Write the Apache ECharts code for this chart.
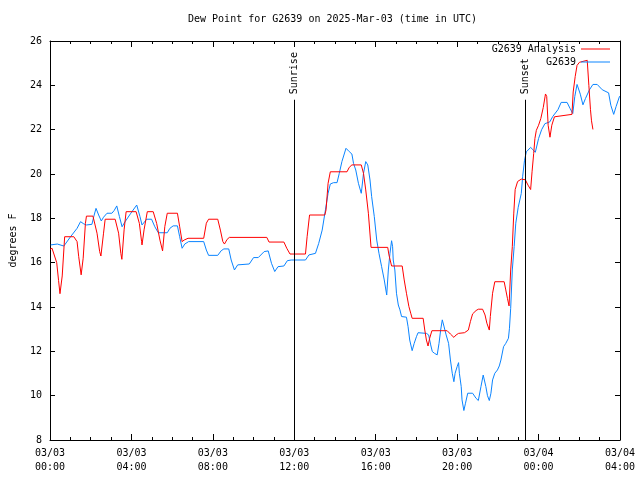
<!DOCTYPE html>
<html>
<head>
<meta charset="utf-8">
<script src="https://cdn.jsdelivr.net/npm/echarts@6/dist/echarts.min.js"></script>
<style>
html,body{margin:0;padding:0;background:#fff;}
#chart{width:640px;height:480px;}
</style>
</head>
<body>
<div id="chart"></div>
<script>
// Hours since 2025-03-03 00:00 UTC, value in degrees F
var analysisSeries = [
[0.0,16.6],[0.1,16.65],[0.33,16.0],[0.42,15.2],[0.49,14.6],[0.6,15.4],[0.72,17.17],[1.17,17.17],[1.33,16.95],[1.41,16.27],[1.53,15.45],[1.63,16.2],[1.74,17.77],[1.79,18.1],[2.11,18.1],[2.31,17.33],[2.44,16.5],[2.5,16.3],[2.63,17.33],[2.71,17.96],[3.2,17.96],[3.37,17.33],[3.48,16.42],[3.53,16.15],[3.64,17.48],[3.74,18.3],[4.23,18.3],[4.39,17.77],[4.5,16.95],[4.52,16.8],[4.62,17.48],[4.78,18.3],[5.07,18.3],[5.24,17.77],[5.4,17.02],[5.53,16.53],[5.64,17.63],[5.76,18.23],
[6.26,18.23],[6.37,17.62],[6.49,16.95],[6.59,17.02],[6.78,17.1],[7.55,17.1],[7.68,17.78],[7.79,17.96],[8.24,17.96],[8.37,17.47],[8.49,16.95],[8.57,16.84],[8.7,17.05],[8.81,17.14],[10.65,17.14],[10.76,16.93],[11.49,16.93],[11.63,16.65],[11.79,16.39],
[12.55,16.39],[12.63,17.17],[12.75,18.15],[13.5,18.15],[13.56,18.38],[13.66,19.58],[13.77,20.1],[14.59,20.1],[14.7,20.3],[14.83,20.41],[15.29,20.41],[15.4,20.03],[15.51,19.28],[15.64,18.23],[15.77,16.69],[16.59,16.69],[16.65,16.35],[16.7,16.27],[16.78,15.85],[17.3,15.85],[17.4,15.22],[17.51,14.62],[17.63,14.02],[17.72,13.72],[17.79,13.49],[18.33,13.49],
[18.41,12.96],[18.49,12.51],[18.57,12.24],[18.65,12.59],[18.76,12.93],[19.51,12.93],[19.67,12.78],[19.84,12.63],[19.95,12.74],[20.07,12.81],[20.36,12.84],[20.55,12.96],[20.65,13.34],[20.76,13.69],[20.93,13.84],[21.04,13.9],[21.25,13.9],[21.37,13.64],[21.46,13.27],[21.58,12.96],[21.63,13.57],[21.74,14.62],[21.85,15.14],[22.31,15.14],[22.39,14.77],[22.47,14.39],[22.55,14.05],[22.63,15.67],[22.71,16.72],[22.78,18.2],[22.85,19.3],[22.97,19.66],[23.15,19.77],[23.35,19.74],[23.48,19.5],[23.61,19.3],[23.68,20.1],[23.76,20.92],[23.82,21.6],[23.89,21.97],[24.0,22.2],[24.11,22.5],[24.23,23.0],[24.34,23.61],[24.4,23.5],[24.47,22.2],[24.56,21.66],[24.65,22.2],[24.78,22.58],[25.64,22.69],[25.7,23.7],[25.8,24.4],[25.89,24.9],[26.01,25.04],[26.39,25.13],[26.47,24.0],[26.55,22.9],[26.6,22.4],[26.67,22.01]
];
var observedSeries = [
[0.03,16.8],[0.36,16.84],[0.68,16.75],[1.01,17.17],[1.33,17.55],[1.5,17.85],[1.66,17.75],[1.79,17.7],[2.06,17.73],[2.15,18.08],[2.26,18.45],[2.39,18.15],[2.52,17.88],[2.63,18.05],[2.8,18.23],[3.04,18.23],[3.15,18.35],[3.28,18.56],[3.41,18.08],[3.54,17.62],[3.69,17.85],[3.97,18.23],[4.26,18.6],[4.42,18.08],[4.52,17.7],[4.75,17.96],[4.99,17.96],[5.15,17.62],[5.32,17.35],[5.76,17.35],[5.89,17.55],[6.05,17.66],
[6.26,17.66],[6.37,17.17],[6.49,16.65],[6.62,16.84],[6.81,16.95],[7.55,16.95],[7.68,16.57],[7.79,16.33],[8.24,16.33],[8.41,16.54],[8.54,16.62],[8.78,16.62],[8.9,16.12],[9.06,15.67],[9.22,15.9],[9.3,15.94],[9.79,15.94],[10.0,16.23],[10.23,16.23],[10.52,16.5],[10.72,16.53],[10.88,15.97],[11.04,15.6],[11.2,15.82],[11.49,15.85],[11.66,16.09],[11.85,16.12],
[12.55,16.12],[12.72,16.35],[12.8,16.42],[13.04,16.42],[13.2,16.87],[13.37,17.47],[13.53,18.38],[13.66,19.13],[13.77,19.55],[13.93,19.61],[14.1,19.61],[14.21,20.03],[14.34,20.56],[14.54,21.16],[14.7,21.01],[14.83,20.9],[14.91,20.48],[15.02,20.18],[15.15,19.58],[15.29,19.13],[15.32,19.36],[15.4,20.03],[15.51,20.56],[15.61,20.41],[15.72,19.73],[15.8,18.98],[15.93,18.08],[16.05,17.02],[16.16,16.42],[16.29,15.82],[16.42,15.22],[16.54,14.54],[16.62,15.67],[16.7,16.42],[16.78,16.99],[16.83,16.72],[16.86,16.12],[16.94,15.67],[17.02,14.62],[17.11,14.09],[17.19,13.87],[17.27,13.57],[17.51,13.54],[17.59,13.11],[17.67,12.51],[17.79,12.03],[17.89,12.36],[18.0,12.66],[18.08,12.84],[18.49,12.81],[18.6,12.74],[18.7,12.29],[18.78,11.99],[18.89,11.91],[19.02,11.84],[19.11,12.36],[19.19,12.96],[19.27,13.42],[19.35,13.14],[19.46,12.74],[19.58,12.36],[19.67,11.61],[19.76,11.01],[19.84,10.63],[19.9,11.01],[20.0,11.31],[20.07,11.49],[20.11,11.01],[20.2,10.41],[20.24,9.81],[20.33,9.33],[20.41,9.66],[20.52,10.11],[20.76,10.11],[20.93,9.88],[21.04,9.78],[21.17,10.41],[21.28,10.93],[21.41,10.41],[21.49,10.0],[21.58,9.78],[21.66,10.11],[21.74,10.71],[21.85,11.01],[21.98,11.16],[22.07,11.34],[22.15,11.61],[22.28,12.21],[22.39,12.36],[22.52,12.59],[22.57,13.04],[22.63,13.94],[22.71,15.67],[22.8,16.72],[22.88,17.78],[23.0,18.5],[23.15,19.12],[23.22,19.9],[23.31,20.62],[23.4,21.0],[23.61,21.2],[23.72,21.1],[23.84,20.98],[24.0,21.6],[24.15,22.0],[24.31,22.27],[24.55,22.35],[24.7,22.6],[24.95,22.9],[25.11,23.23],[25.4,23.23],[25.55,22.95],[25.68,22.73],[25.78,23.5],[25.89,24.04],[26.05,23.6],[26.18,23.12],[26.3,23.4],[26.5,23.8],[26.67,24.04],[26.88,24.04],[27.13,23.8],[27.44,23.66],[27.55,23.1],[27.69,22.69],[27.81,23.05],[27.98,23.51]
];
var xTickDates = ['03/03','03/03','03/03','03/03','03/03','03/03','03/04','03/04'];
var xTickTimes = ['00:00','04:00','08:00','12:00','16:00','20:00','00:00','04:00'];
var sunEvents = [{name:'Sunrise', hour:12.0}, {name:'Sunset', hour:23.35}];
var markerTop = 23.35;
var yMin = 8, yMax = 26;

var FONT = 'DejaVu Sans Mono';
var chart = echarts.init(document.getElementById('chart'), null, {renderer:'canvas'});

function tickLabel(v){
  var i = Math.round(v/4);
  return xTickDates[i] + '\n' + xTickTimes[i];
}

var lineData = sunEvents.map(function(e){ return [{coord:[e.hour, yMin]},{coord:[e.hour, markerTop]}]; });
var pointData = sunEvents.map(function(e){ return {name:e.name, coord:[e.hour, markerTop]}; });

var baseX = {
  type:'value', min:0, max:28, interval:4,
  axisLine:{show:true, onZero:false, lineStyle:{color:'#000', width:1}},
  axisTick:{show:true, inside:true, length:6, lineStyle:{color:'#000'}},
  minorTick:{show:true, splitNumber:4, length:3, lineStyle:{color:'#000'}},
  splitLine:{show:false}, minorSplitLine:{show:false}
};
var baseY = {
  type:'value', min:yMin, max:yMax, interval:2,
  axisLine:{show:true, onZero:false, lineStyle:{color:'#000', width:1}},
  axisTick:{show:true, inside:true, length:5, lineStyle:{color:'#000'}},
  splitLine:{show:false}
};

chart.setOption({
  animation:false,
  backgroundColor:'#fff',
  title:{text:'Dew Point for G2639 on 2025-Mar-03 (time in UTC)', left:188, top:14, padding:0,
    textStyle:{fontFamily:FONT, fontSize:10, fontWeight:'normal', color:'#000'}},
  legend:[
    {data:['G2639 Analysis'], right:30, top:44, padding:0, align:'right', icon:'rect', itemWidth:29, itemHeight:1,
      textStyle:{fontFamily:FONT, fontSize:10, color:'#000'}},
    {data:['G2639'], right:30, top:57, padding:0, align:'right', icon:'rect', itemWidth:29, itemHeight:1,
      textStyle:{fontFamily:FONT, fontSize:10, color:'#000'}}
  ],
  grid:{left:46, right:20, top:41, bottom:40, containLabel:false},
  xAxis:[
    Object.assign({}, baseX, {position:'bottom',
      axisLabel:{show:true, formatter:tickLabel, fontFamily:FONT, fontSize:10, color:'#000', lineHeight:14, margin:6}}),
    Object.assign({}, baseX, {position:'top', axisLabel:{show:false}})
  ],
  yAxis:[
    Object.assign({}, baseY, {position:'left', name:'degrees F', nameLocation:'middle', nameGap:32, nameRotate:90,
      nameTextStyle:{fontFamily:FONT, fontSize:10, color:'#000'},
      axisLabel:{show:true, fontFamily:FONT, fontSize:10, color:'#000', margin:8}}),
    Object.assign({}, baseY, {position:'right', axisLabel:{show:false}})
  ],
  series:[
    {name:'G2639 Analysis', type:'line', data:analysisSeries, showSymbol:false, symbol:'none',
      lineStyle:{color:'#ff0000', width:1}, itemStyle:{color:'#ff0000'}, z:3,
      markLine:{silent:true, symbol:'none', animation:false,
        lineStyle:{color:'#000', width:1, type:'solid'}, label:{show:false}, data:lineData},
      markPoint:{silent:true, symbol:'circle', symbolSize:1, itemStyle:{color:'rgba(0,0,0,0)'},
        label:{show:true, formatter:'{b}', position:'top', distance:5, rotate:90, align:'left', verticalAlign:'middle',
          fontFamily:FONT, fontSize:10, color:'#000'},
        data:pointData}
    },
    {name:'G2639', type:'line', data:observedSeries, showSymbol:false, symbol:'none',
      lineStyle:{color:'#0a84ff', width:1}, itemStyle:{color:'#0a84ff'}, z:2}
  ]
});
</script>
</body>
</html>
